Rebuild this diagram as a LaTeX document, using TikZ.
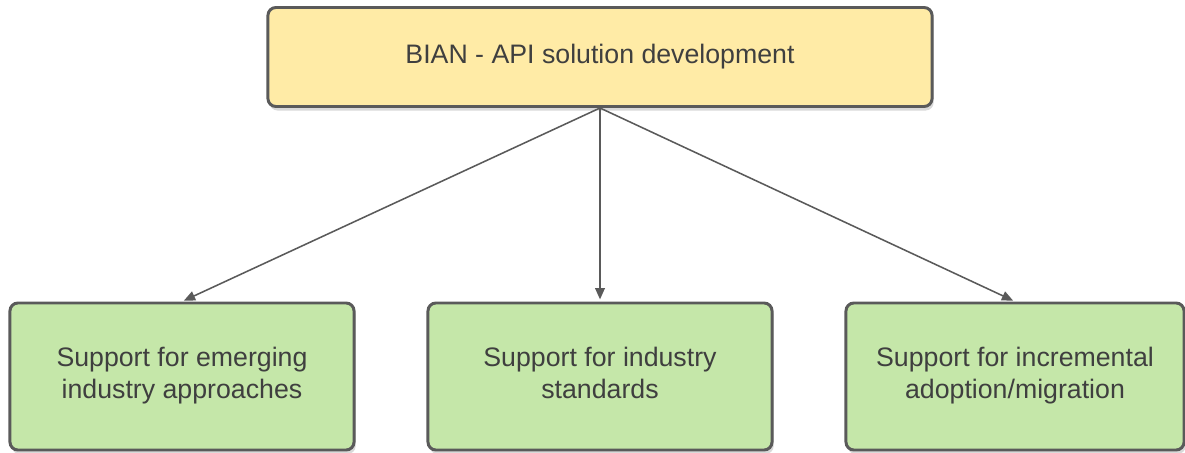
\documentclass[tikz,border=0pt]{standalone}
\usepackage{fontspec}
\setmainfont{Liberation Sans}
\usetikzlibrary{arrows.meta,shadows}
\definecolor{boxline}{HTML}{5A5A5A}
\definecolor{boxtext}{HTML}{3F3F3F}
\definecolor{topfill}{HTML}{FFEBA6}
\definecolor{subfill}{HTML}{C5E7A9}

\begin{document}
\begin{tikzpicture}[x=0.025cm, y=-0.025cm,
	goalbox/.style={draw=boxline, line width=2.1pt, rounded corners=0.2cm,
		text=boxtext, font=\fontsize{19}{22.5}\selectfont, align=center,
		drop shadow={shadow xshift=0.04cm, shadow yshift=-0.1cm, opacity=0.15, fill=black}},
	topbox/.style={goalbox, fill=topfill, minimum width=16.6cm, minimum height=2.475cm},
	subbox/.style={goalbox, fill=subfill, minimum width=8.6cm, minimum height=3.675cm, text depth=0.2cm},
	link/.style={draw=boxline, line width=1.1pt, -{Triangle[length=0.28cm, width=0.24cm]}, shorten >=1.5pt}]
			%%%%% START %%%%%
			
			\useasboundingbox (0, 0) rectangle (1185, 453);
			
			\node[topbox] (bian) at (600, 57) {BIAN - API solution development};
			
			\node[subbox] (emerging) at (182, 376.5) {Support for emerging\\industry approaches};
			\node[subbox] (standards) at (600, 376.5) {Support for industry\\standards};
			\node[subbox, minimum width=8.45cm] (migration) at (1015, 376.5) {Support for incremental\\adoption/migration};
			
			\draw[link] (bian.south) -- (emerging.north);
			\draw[link] (bian.south) -- (standards.north);
			\draw[link] (bian.south) -- (migration.north);
			
			%%%%% END %%%%%
\end{tikzpicture}
\end{document}
